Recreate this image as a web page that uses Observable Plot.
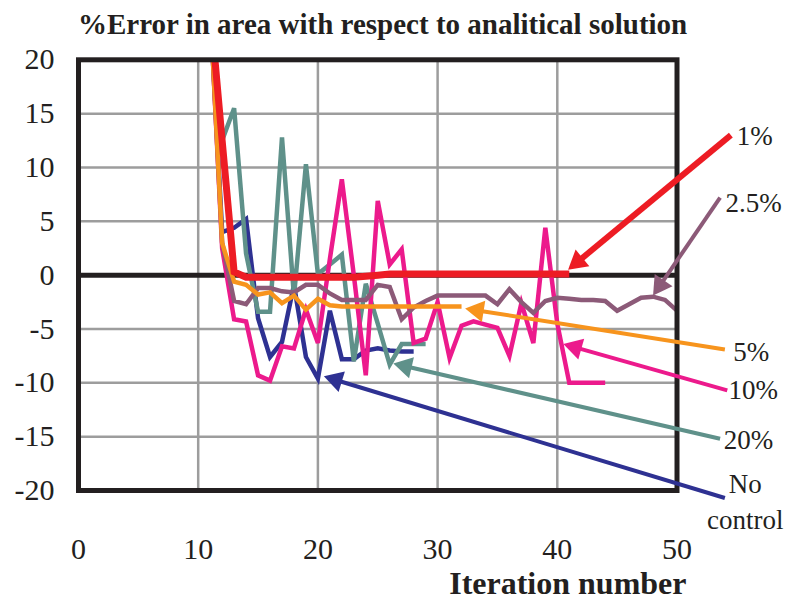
<!DOCTYPE html>
<html>
<head>
<meta charset="utf-8">
<script src="https://cdn.jsdelivr.net/npm/d3@7"></script>
<script src="https://cdn.jsdelivr.net/npm/@observablehq/plot@0.6"></script>
<style>
  body { margin: 0; background: #fff; }
  #title { height: 44px; width: 787px; box-sizing: border-box; padding-left: 78px;
           font: bold 29px "Liberation Serif", "Times New Roman", serif; line-height: 48px;
           color: #231f20; white-space: nowrap; overflow: visible; }
  #chart svg { display: block; }
</style>
</head>
<body>
<div id="title">%Error in area with respect to analitical solution</div>
<div id="chart"></div>
<script>
// ---------- data ----------
const xTicks = [0, 10, 20, 30, 40, 50];
const yTicks = [-20, -15, -10, -5, 0, 5, 10, 15, 20];
const xGrid = [10, 20, 30, 40];
const yGrid = [-15, -10, -5, 5, 10, 15];

const seriesNames = ["No control", "20%", "10%", "2.5%", "5%", "1%"];
const seriesStart = [11, 11, 11, 11, 11, 11];

const noControlValues = [25, 4.0, 4.4, 5.2, -4.0, -7.6, -6.2, -0.9, -7.6, -9.6, -3.3, -7.8, -7.8, -7.0, -6.8, -7.0, -7.1, -7.1];
const pct20Values = [25, 12.5, 15.5, 2.0, -3.4, -3.4, 12.8, -2.0, 10.3, 0.1, 1.0, 1.9, -8.0, -0.8, -4.5, -8.3, -6.4, -6.4, -6.4];
const pct10Values = [25, 2.5, -4.1, -4.3, -9.3, -9.8, -6.6, -6.8, -3.2, -6.3, 1.5, 8.9, 0.0, -9.3, 6.9, 1.0, 2.4, -6.3, -5.9, -2.5,
                     -7.7, -4.7, -4.3, -4.6, -4.9, -7.5, -2.6, -6.3, 4.4, -4.5, -10, -10, -10, -10];
const pct2_5Values = [25, 3.0, -2.4, -2.7, -1.2, -1.2, -1.5, -1.6, -0.9, -0.9, -1.7, -2.3, -2.3, -2.3, -0.9, -1.1, -4.1, -3.0, -2.4, -1.9,
                      -1.9, -1.9, -1.9, -1.9, -2.7, -1.3, -2.5, -3.5, -2.4, -2.1, -2.2, -2.3, -2.3, -2.4, -3.3, -2.7, -2.1, -2.0, -2.3, -3.3];
const pct5Values = [25, 3.0, -0.6, -0.9, -1.8, -1.6, -2.6, -1.9, -3.2, -2.2, -2.8, -2.9, -2.9, -2.9, -2.9, -2.9, -2.9, -2.9, -2.9, -2.9, -2.9, -2.9];
const pct1Values = [25, 12.5, 0.3, -0.2, -0.2, -0.2, -0.2, -0.2, -0.2, -0.2, -0.2, -0.2, -0.2, -0.1, 0.0, 0.1, 0.1, 0.1, 0.1, 0.1,
                    0.1, 0.1, 0.1, 0.1, 0.1, 0.1, 0.1, 0.1, 0.1, 0.1, 0.1];
const seriesValues = [noControlValues, pct20Values, pct10Values, pct2_5Values, pct5Values, pct1Values];

// annotation arrows (data coordinates): from label towards curve
const arrowFromX = [54.0, 53.6, 54.2, 53.6, 54.0, 54.5];
const arrowFromY = [-20.7, -15.2, -10.7, 7.2, -6.9, 13.0];
const arrowToX   = [20.5, 26.3, 40.5, 48.0, 32.3, 40.9];
const arrowToY   = [-9.4, -8.2, -6.4, -1.9, -3.1, 0.5];

// annotation labels
const labelText = ["No\ncontrol", "20%", "10%", "2.5%", "5%", "1%"];
const labelX = [55.7, 53.9, 54.3, 54.05, 54.7, 55.0];
const labelY = [-20.85, -15.3, -10.7, 6.7, -7.2, 12.9];

// ---------- styles ----------
const colors = ["#2e3192", "#5f918a", "#ec1a8c", "#8c5a78", "#f7941d", "#ed1c24"];
const lineWidths = [4.5, 4.5, 4.5, 4.5, 4.5, 7];
const arrowWidths = [4, 4, 4, 4, 4, 6];
const ink = "#231f20";
const gridColor = "#9d9d9d";

const W = 787, H = 561;
const mL = 78, mR = 110.5, mT = 15.3, mB = 115;

// ---------- build ----------
const rows = [];
seriesNames.forEach((name, s) => {
  seriesValues[s].forEach((v, k) => rows.push({series: name, iter: seriesStart[s] + k, value: v}));
});

let xs, ys;
try {
  xs = Plot.scale({x: {domain: [0, 50], range: [mL, W - mR]}});
  ys = Plot.scale({y: {domain: [-20, 20], range: [H - mB, mT]}});
} catch (e) {
  const sx = d3.scaleLinear([0, 50], [mL, W - mR]), sy = d3.scaleLinear([-20, 20], [H - mB, mT]);
  xs = {apply: sx, invert: sx.invert}; ys = {apply: sy, invert: sy.invert};
}

const headR = 8;
const headArea = Math.PI * headR * headR;
const tipOffset = 2 * Math.sqrt(headArea / (3 * Math.sqrt(3)));

const arrows = seriesNames.map((name, s) => {
  const x0 = xs.apply(arrowFromX[s]), y0 = ys.apply(arrowFromY[s]);
  const x1 = xs.apply(arrowToX[s]), y1 = ys.apply(arrowToY[s]);
  const dx = x1 - x0, dy = y1 - y0, len = Math.hypot(dx, dy);
  const ux = dx / len, uy = dy / len;
  const cx = x1 - ux * tipOffset, cy = y1 - uy * tipOffset;
  return {
    s, name,
    x1: arrowFromX[s], y1: arrowFromY[s],
    x2: xs.invert(cx), y2: ys.invert(cy),
    angle: Math.atan2(ux, -uy) * 180 / Math.PI
  };
});

const labels = labelText.map((t, s) => ({t, x: labelX[s], y: labelY[s], s}));

const marks = [
  Plot.ruleX(xGrid, {stroke: gridColor, strokeWidth: 2.5}),
  Plot.ruleY(yGrid, {stroke: gridColor, strokeWidth: 2.5}),
  Plot.axisX({ticks: xTicks, tickSize: 0, tickPadding: 47, fontSize: 30, color: ink, tickFormat: d => String(d), label: null}),
  Plot.axisY({ticks: yTicks, tickSize: 0, tickPadding: 24, fontSize: 30, color: ink, tickFormat: d => String(d), label: null}),
  Plot.ruleY([0], {stroke: ink, strokeWidth: 5})
];
seriesNames.forEach((name, s) => {
  marks.push(Plot.line(rows.filter(d => d.series === name), {
    x: "iter", y: "value", stroke: colors[s], strokeWidth: lineWidths[s],
    strokeLinejoin: "miter", strokeMiterlimit: 4, strokeLinecap: "butt", clip: true
  }));
});
marks.push(Plot.frame({stroke: ink, strokeWidth: 5}));
arrows.forEach(a => {
  marks.push(Plot.link([a], {x1: "x1", y1: "y1", x2: "x2", y2: "y2", stroke: colors[a.s], strokeWidth: arrowWidths[a.s], strokeLinecap: "butt"}));
  marks.push(Plot.dot([a], {x: "x2", y: "y2", symbol: "triangle", r: headR, fill: colors[a.s], stroke: "none", rotate: "angle"}));
});
marks.push(Plot.text(labels.filter(d => d.s !== 0), {x: "x", y: "y", text: "t", textAnchor: "start", fontSize: 27, fill: ink}));
marks.push(Plot.text(labels.filter(d => d.s === 0), {x: "x", y: "y", text: "t", textAnchor: "middle", fontSize: 27, lineHeight: 1.33, fill: ink}));
marks.push(Plot.text(["Iteration number"], {text: d => d, frameAnchor: "bottom-right", dx: 9.5, dy: 103, textAnchor: "end", fontSize: 32, fontWeight: "bold", fill: ink}));

const chart = Plot.plot({
  width: W, height: H,
  marginLeft: mL, marginRight: mR, marginTop: mT, marginBottom: mB,
  x: {domain: [0, 50]},
  y: {domain: [-20, 20]},
  style: {fontFamily: "'Liberation Serif', 'Times New Roman', serif", fontSize: "30px", color: ink, background: "#fff", overflow: "visible"},
  marks
});
document.getElementById("chart").appendChild(chart);
</script>
</body>
</html>
